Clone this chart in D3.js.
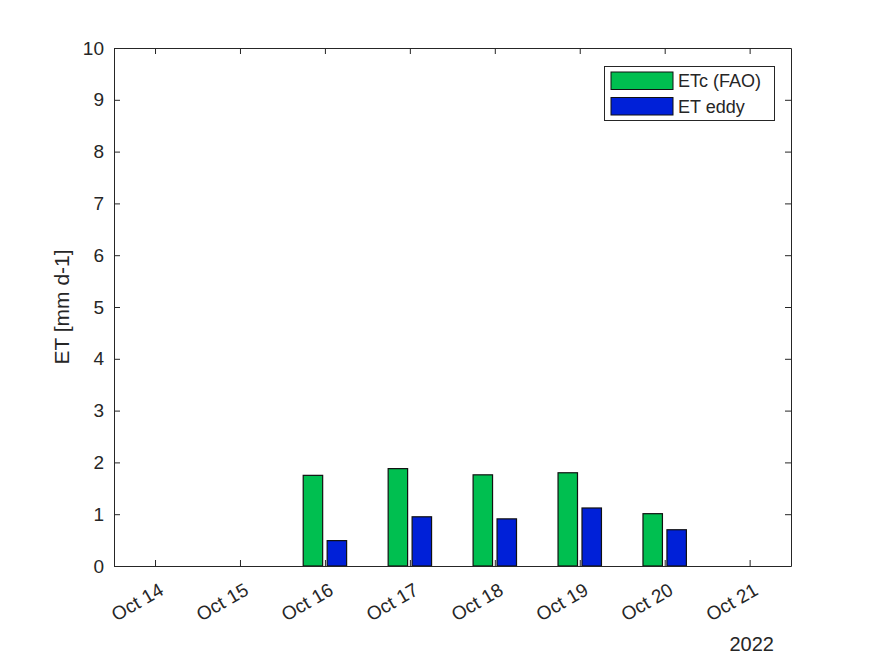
<!DOCTYPE html>
<html><head><meta charset="utf-8">
<script src="https://cdn.jsdelivr.net/npm/d3@7"></script>
<style>body{margin:0;background:#fff}text{font-family:"Liberation Sans",Arial,sans-serif;fill:#262626}</style>
</head><body><svg id="c" width="875" height="656"></svg>
<script>
const tickDays = ["2022-10-14","2022-10-15","2022-10-16","2022-10-17","2022-10-18","2022-10-19","2022-10-20","2022-10-21"];
const barDays = ["2022-10-16","2022-10-17","2022-10-18","2022-10-19","2022-10-20"];
const etcFAO = [1.75, 1.88, 1.76, 1.80, 1.01];
const etEddy = [0.49, 0.95, 0.91, 1.12, 0.70];
const yTicks = [0,1,2,3,4,5,6,7,8,9,10];
const seriesNames = ["ETc (FAO)", "ET eddy"];
const colors = ["#00bf50", "#0020d8"];

const parse = d3.utcParse("%Y-%m-%d");
const svg = d3.select("#c");
const L=114, R=791, T=48, B=566;
const DAY = 864e5;
const x = d3.scaleUtc()
  .domain([new Date(parse("2022-10-14").getTime()-0.483*DAY), new Date(parse("2022-10-21").getTime()+0.487*DAY)])
  .range([L,R]);
const y = d3.scaleLinear().domain([0,10]).range([B,T]);
const pxPerDay = x(parse("2022-10-15")) - x(parse("2022-10-14"));
const off = 0.141, bw = 0.229;

// bars
[etcFAO, etEddy].forEach((vals, si) => {
  svg.append("g").selectAll("rect").data(vals).join("rect")
    .attr("x", (d,i) => x(new Date(parse(barDays[i]).getTime() + (si===0?-off:off)*DAY)) - bw*pxPerDay/2)
    .attr("width", bw*pxPerDay)
    .attr("y", d => y(d))
    .attr("height", d => y(0)-y(d))
    .attr("fill", colors[si]).attr("stroke", "#111").attr("stroke-width", 1.2);
});

// axes
const tickVals = tickDays.map(parse);
const gx = svg.append("g").attr("transform", `translate(0,${B})`)
  .call(d3.axisBottom(x).tickValues(tickVals).tickSize(-6).tickSizeOuter(0).tickFormat(d => "Oct " + (+d3.utcFormat("%d")(d))));
gx.selectAll("text").attr("font-size", 19).attr("text-anchor","end")
  .attr("x",0).attr("y",0).attr("dy","0.35em")
  .attr("transform","translate(6,22) rotate(-30)");
svg.append("g").attr("transform", `translate(0,${T})`)
  .call(d3.axisTop(x).tickValues(tickVals).tickSize(-6).tickSizeOuter(0).tickFormat(""));
const gy = svg.append("g").attr("transform", `translate(${L},0)`)
  .call(d3.axisLeft(y).tickValues(yTicks).tickSize(-6).tickSizeOuter(0).tickPadding(10));
gy.selectAll("text").attr("font-size", 19);
svg.append("g").attr("transform", `translate(${R},0)`)
  .call(d3.axisRight(y).tickValues(yTicks).tickSize(-6).tickSizeOuter(0).tickFormat(""));
svg.selectAll(".domain").attr("stroke","#262626").attr("stroke-width",1);
svg.selectAll(".tick line").attr("stroke","#262626");
svg.selectAll("g").attr("font-family", null);

// labels
svg.append("text").attr("transform", `translate(69,${(T+B)/2}) rotate(-90)`)
  .attr("text-anchor","middle").attr("font-size", 21).text("ET [mm d-1]");
svg.append("text").attr("x", 774).attr("y", 651).attr("text-anchor","end").attr("font-size", 20).text("2022");

// legend
const lg = svg.append("g");
lg.append("rect").attr("x",604.5).attr("y",66.5).attr("width",170).attr("height",54)
  .attr("fill","#fff").attr("stroke","#262626").attr("stroke-width",1);
seriesNames.forEach((n,i) => {
  const yy = 72 + i*25.5;
  lg.append("rect").attr("x",611).attr("y",yy).attr("width",62).attr("height",17.5)
    .attr("fill",colors[i]).attr("stroke","#111").attr("stroke-width",1);
  lg.append("text").attr("x",678).attr("y",yy+9).attr("dy","0.35em").attr("font-size",18).text(n);
});
</script></body></html>
